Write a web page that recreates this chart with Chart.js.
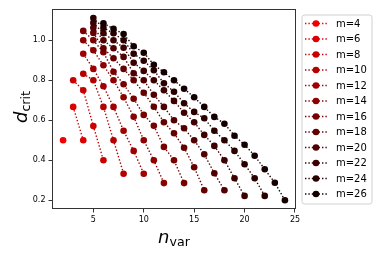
<!DOCTYPE html>
<html><head><meta charset="utf-8">
<script src="https://cdn.jsdelivr.net/npm/chart.js@4/dist/chart.umd.min.js"></script>
<style>html,body{margin:0;padding:0;background:#fff;overflow:hidden}canvas{display:block}</style>
</head><body>
<canvas id="c" width="382" height="254"></canvas>
<script>
// ---- data ----
const seriesLabels = ['m=4','m=6','m=8','m=10','m=12','m=14','m=16','m=18','m=20','m=22','m=24','m=26'];
const n_m4  = [2];
const d_m4  = [0.5];
const n_m6  = [3,4];
const d_m6  = [0.667,0.5];
const n_m8  = [3,4,5,6];
const d_m8  = [0.8,0.75,0.571,0.4];
const n_m10 = [4,5,6,7,8];
const d_m10 = [0.833,0.8,0.667,0.5,0.333];
const n_m12 = [4,5,6,7,8,9,10];
const d_m12 = [0.933,0.857,0.77,0.667,0.548,0.447,0.333];
const n_m14 = [4,5,6,7,8,9,10,11,12];
const d_m14 = [1.0,0.95,0.875,0.8,0.715,0.618,0.5,0.4,0.286];
const n_m16 = [4,5,6,7,8,9,10,11,12,13,14];
const d_m16 = [1.047,1.0,0.94,0.843,0.78,0.708,0.627,0.573,0.467,0.4,0.286];
const n_m18 = [5,6,7,8,9,10,11,12,13,14,15,16];
const d_m18 = [1.037,0.96,0.91,0.857,0.8,0.738,0.668,0.59,0.535,0.463,0.365,0.25];
const n_m20 = [5,6,7,8,9,10,11,12,13,14,15,16,17,18];
const d_m20 = [1.063,1.0,0.96,0.917,0.835,0.8,0.728,0.667,0.6,0.56,0.5,0.43,0.335,0.25];
const n_m22 = [5,6,7,8,9,10,11,12,13,14,15,16,17,18,19,20];
const d_m22 = [1.087,1.035,1.0,0.963,0.888,0.847,0.8,0.75,0.697,0.638,0.59,0.527,0.472,0.4,0.31,0.222];
const n_m24 = [5,6,7,8,9,10,11,12,13,14,15,16,17,18,19,20,21,22];
const d_m24 = [1.111,1.062,1.035,1.0,0.933,0.898,0.85,0.785,0.743,0.685,0.642,0.61,0.548,0.5,0.447,0.38,0.31,0.222];
const n_m26 = [6,7,8,9,10,11,12,13,14,15,16,17,18,19,20,21,22,23,24];
const d_m26 = [1.085,1.058,1.031,0.97,0.938,0.878,0.84,0.8,0.758,0.715,0.667,0.617,0.583,0.523,0.478,0.423,0.355,0.288,0.2];
const xTicks = [5,10,15,20,25];
const yTicks = [0.2,0.4,0.6,0.8,1.0];

const nLists = [n_m4,n_m6,n_m8,n_m10,n_m12,n_m14,n_m16,n_m18,n_m20,n_m22,n_m24,n_m26];
const dLists = [d_m4,d_m6,d_m8,d_m10,d_m12,d_m14,d_m16,d_m18,d_m20,d_m22,d_m24,d_m26];

const N = seriesLabels.length;
function colorFor(i){ const r = Math.round(240*(1 - i/N)); return `rgb(${r},0,0)`; }

const datasets = seriesLabels.map((lab,i)=>({
  label: lab,
  data: nLists[i].map((n,k)=>({x:n, y:dLists[i][k]})),
  showLine: true,
  borderColor: colorFor(i),
  backgroundColor: colorFor(i),
  borderWidth: 1.4,
  borderDash: [1.4, 2.0],
  pointRadius: 3.3,
  pointBorderWidth: 0,
  pointBackgroundColor: colorFor(i),
  order: N - i,
  fill: false
}));

const FONT = "'DejaVu Sans', sans-serif";

const decor = {
  id: 'decor',
  afterDatasetsDraw(chart){
    const {ctx, chartArea:a} = chart;
    ctx.save();
    ctx.strokeStyle = '#333';
    ctx.lineWidth = 1;
    ctx.setLineDash([]);
    ctx.strokeRect(Math.round(a.left)+0.5, Math.round(a.top)+0.5, Math.round(a.right-a.left)-1, Math.round(a.bottom-a.top)-1);
    ctx.restore();
  },
  afterDraw(chart){
    const {ctx, chartArea:a} = chart;
    ctx.save();
    // x label  n_var
    ctx.fillStyle = '#000';
    ctx.textBaseline = 'alphabetic';
    ctx.font = `italic 18px ${FONT}`;
    const wn = ctx.measureText('n').width;
    ctx.font = `12.6px ${FONT}`;
    const wv = ctx.measureText('var').width;
    const cx = (a.left + a.right)/2;
    let x0 = cx - (wn+wv)/2;
    ctx.font = `italic 18px ${FONT}`;
    ctx.fillText('n', x0, 243);
    ctx.font = `12.6px ${FONT}`;
    ctx.fillText('var', x0 + wn, 246);
    // y label d_crit
    ctx.save();
    ctx.translate(27, (a.top+a.bottom)/2 - 2);
    ctx.rotate(-Math.PI/2);
    ctx.font = `italic 18px ${FONT}`;
    const wd = ctx.measureText('d').width;
    ctx.font = `12.6px ${FONT}`;
    const wc = ctx.measureText('crit').width;
    let u0 = -(wd+wc)/2;
    ctx.font = `italic 18px ${FONT}`;
    ctx.fillText('d', u0, 0);
    ctx.font = `12.6px ${FONT}`;
    ctx.fillText('crit', u0 + wd, 3);
    ctx.restore();

    // legend
    const bx = 302, by = 15, bw = 70, bh = 189, r = 2.5;
    ctx.beginPath();
    ctx.moveTo(bx+r, by);
    ctx.lineTo(bx+bw-r, by); ctx.arcTo(bx+bw, by, bx+bw, by+r, r);
    ctx.lineTo(bx+bw, by+bh-r); ctx.arcTo(bx+bw, by+bh, bx+bw-r, by+bh, r);
    ctx.lineTo(bx+r, by+bh); ctx.arcTo(bx, by+bh, bx, by+bh-r, r);
    ctx.lineTo(bx, by+r); ctx.arcTo(bx, by, bx+r, by, r);
    ctx.closePath();
    ctx.fillStyle = 'rgba(255,255,255,0.8)';
    ctx.fill();
    ctx.strokeStyle = '#d0d0d0';
    ctx.lineWidth = 1;
    ctx.stroke();
    chart.data.datasets.forEach((ds,i)=>{
      const y = 23.5 + i*15.5;
      ctx.strokeStyle = ds.borderColor;
      ctx.lineWidth = 1.4;
      ctx.setLineDash([1.4,2.0]);
      ctx.beginPath(); ctx.moveTo(305, y); ctx.lineTo(327, y); ctx.stroke();
      ctx.setLineDash([]);
      ctx.fillStyle = ds.backgroundColor;
      ctx.beginPath(); ctx.arc(316, y, 3.3, 0, Math.PI*2); ctx.fill();
      ctx.fillStyle = '#000';
      ctx.font = `10px ${FONT}`;
      ctx.textBaseline = 'middle';
      ctx.fillText(ds.label, 336, y+0.5);
    });
    ctx.restore();
  }
};

new Chart(document.getElementById('c'), {
  type: 'scatter',
  data: { datasets },
  plugins: [decor],
  options: {
    responsive: false,
    animation: false,
    events: [],
    layout: { padding: { left: 0, top: 9, right: 86, bottom: 0 } },
    plugins: { legend: { display: false }, tooltip: { enabled: false } },
    scales: {
      x: {
        type: 'linear', min: 0.9, max: 25.1,
        afterBuildTicks(s){ s.ticks = xTicks.map(v=>({value:v})); },
        afterFit(s){ s.height = 45; },
        grid: { display: true, drawOnChartArea: false, drawTicks: true, tickLength: 3.5, color: '#333', tickWidth: 1 },
        border: { display: false },
        ticks: { color: '#000', font: { family: FONT, size: 8 }, padding: 3, maxRotation: 0, autoSkip: false,
                 callback: v => String(v) }
      },
      y: {
        type: 'linear', min: 0.1565, max: 1.1565,
        afterBuildTicks(s){ s.ticks = yTicks.map(v=>({value:v})); },
        afterFit(s){ s.width = 52; },
        grid: { display: true, drawOnChartArea: false, drawTicks: true, tickLength: 3.5, color: '#333', tickWidth: 1 },
        border: { display: false },
        ticks: { color: '#000', font: { family: FONT, size: 8 }, padding: 3, autoSkip: false,
                 callback: v => v.toFixed(1) }
      }
    }
  }
});
</script>
</body></html>
